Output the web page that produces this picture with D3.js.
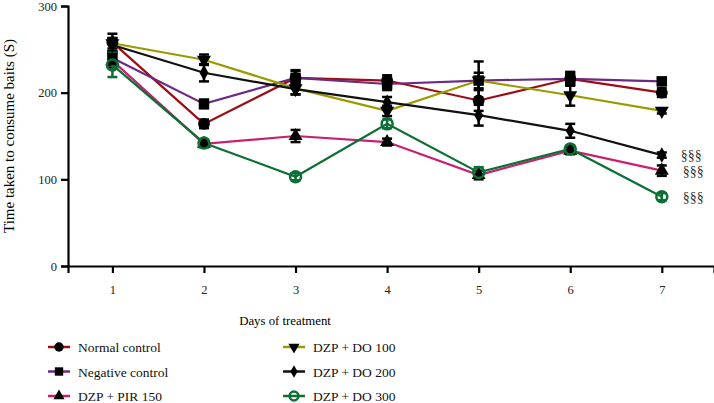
<!DOCTYPE html>
<html>
<head>
<meta charset="utf-8">
<script src="https://cdn.jsdelivr.net/npm/d3@7"></script>
<style>
  body { margin: 0; background: #fff; }
</style>
</head>
<body>
<script>
// days on the x axis
let days = [1, 2, 3, 4, 5, 6, 7];
let yTicks = [0, 100, 200, 300];

// mean time (s) per group
let normalControl   = [258, 164, 217, 214, 191, 216, 200];
let negativeControl = [240, 187, 217, 210, 214, 216, 213];
let dzpPir150       = [237, 141, 150, 143, 105, 133, 110];
let dzpDo100        = [257, 238, 205, 179, 214, 197, 179];
let dzpDo200        = [255, 223, 204, 189, 174, 156, 128];
let dzpDo300        = [232, 142, 103, 164, 108, 135, 80];

// error (SEM) per point
let normalErr   = [10, 5, 8, 6, 12, 7, 5];
let negativeErr = [8, 5, 9, 7, 9, 8, 4];
let pirErr      = [8, 4, 7, 4, 5, 4, 6];
let do100Err    = [6, 6, 7, 6, 22, 12, 3];
let do200Err    = [8, 10, 6, 6, 12, 8, 3];
let do300Err    = [14, 4, 4, 5, 6, 4, 4];

let groups = [
  {name: "Normal control",   values: normalControl,   err: normalErr,   color: "#9b0d12", shape: "circle"},
  {name: "Negative control", values: negativeControl, err: negativeErr, color: "#6b2a80", shape: "square"},
  {name: "DZP + PIR 150",    values: dzpPir150,       err: pirErr,      color: "#c8206f", shape: "triangle"},
  {name: "DZP + DO 100",     values: dzpDo100,        err: do100Err,    color: "#9a9a00", shape: "down"},
  {name: "DZP + DO 200",     values: dzpDo200,        err: do200Err,    color: "#111111", shape: "diamond"},
  {name: "DZP + DO 300",     values: dzpDo300,        err: do300Err,    color: "#0c7034", shape: "open"}
];
let sigLabels = [{group: 4, text: "§§§"}, {group: 2, text: "§§§"}, {group: 5, text: "§§§"}];

let serif = "'Liberation Serif', 'Times New Roman', Times, 'DejaVu Serif', 'Noto Serif', serif";

let margin = {top: 6, right: 0, bottom: 137, left: 68},
    width = 714 - margin.left - margin.right,
    height = 403 - margin.top - margin.bottom;

let root = d3.select("body")
    .append("svg")
        .attr("width", 714)
        .attr("height", 403)
        .style("font-family", serif);
let svg = root.append("g")
        .attr("transform", "translate(" + margin.left + "," + margin.top + ")");

let x = d3.scaleLinear().domain([0.515, 7.57]).range([0, width]);
let y = d3.scaleLinear().domain([0, 300]).range([height, 0]);

// axes
let xAxis = svg.append("g")
    .attr("transform", "translate(0," + height + ")")
    .call(d3.axisBottom(x).tickValues(days).tickFormat(d3.format("d")).tickSizeOuter(0).tickSize(7).tickPadding(12));
let yAxis = svg.append("g")
    .call(d3.axisLeft(y).tickValues(yTicks).tickSizeOuter(0).tickSize(7).tickPadding(4));
[xAxis, yAxis].forEach(function(a) {
    a.attr("font-family", serif);
    a.select(".domain").attr("stroke-width", 2.2);
    a.selectAll(".tick line").attr("stroke-width", 2.2);
    a.selectAll("text").style("font-size", "12.5px").attr("fill", "#222");
});

svg.append("text")
    .text("Days of treatment")
    .attr("x", 285 - margin.left)
    .attr("y", 325 - margin.top)
    .attr("text-anchor", "middle")
    .style("font-size", "12.8px");

svg.append("text")
    .text("Time taken to consume baits (S)")
    .attr("transform", "translate(" + (14 - margin.left) + "," + (height / 2) + ") rotate(-90)")
    .attr("text-anchor", "middle")
    .style("font-size", "15px");

function symbol(shape) {
    let t = {circle: d3.symbolCircle, square: d3.symbolSquare, triangle: d3.symbolTriangle,
             down: d3.symbolTriangle, diamond: d3.symbolDiamond, open: d3.symbolCircle}[shape];
    let size = {circle: 110, square: 110, triangle: 85, down: 85, diamond: 70, open: 95}[shape];
    return d3.symbol().type(t).size(size)();
}

function drawMarker(g, d, cx, cy, k) {
    let p = g.append("path")
        .attr("d", symbol(d.shape))
        .attr("transform", "translate(" + cx + "," + cy + ")" + (d.shape === "down" ? " rotate(180)" : "") + " scale(" + (k || 1) + ")");
    if (d.shape === "open") {
        p.attr("fill", "none").attr("stroke", d.color).attr("stroke-width", 2.5 / (k || 1));
    } else {
        p.attr("fill", "#000");
    }
}

let line = d3.line()
    .x(function(d, i) { return x(days[i]); })
    .y(function(d) { return y(d); });

// error bars
groups.forEach(function(g) {
    let eg = svg.append("g").attr("stroke", g.shape === "open" ? g.color : "#000").attr("stroke-width", 2.5);
    g.values.forEach(function(v, i) {
        let cx = x(days[i]);
        eg.append("line").attr("x1", cx).attr("x2", cx).attr("y1", y(v - g.err[i])).attr("y2", y(v + g.err[i]));
        [v - g.err[i], v + g.err[i]].forEach(function(e) {
            eg.append("line").attr("x1", cx - 5).attr("x2", cx + 5).attr("y1", y(e)).attr("y2", y(e));
        });
    });
});

// lines
groups.forEach(function(g) {
    svg.append("path")
        .datum(g.values)
        .attr("d", line)
        .attr("fill", "none")
        .attr("stroke", g.color)
        .attr("stroke-width", 2.2);
});

// markers
groups.forEach(function(g) {
    let mg = svg.append("g");
    g.values.forEach(function(v, i) { drawMarker(mg, g, x(days[i]), y(v)); });
});

// significance marks at day 7
sigLabels.forEach(function(s, k) {
    let v = groups[s.group].values[6];
    svg.append("text")
        .text(s.text)
        .attr("x", x(7) + 19 + (k > 0 ? 2 : 0))
        .attr("y", y(v) + 5)
        .style("font-size", "14px")
        .attr("fill", "#333");
});

// legend
let legend = root.append("g");
groups.forEach(function(g, i) {
    let col = i < 3 ? 0 : 1;
    let row = i % 3;
    let lx = col === 0 ? 48 : 283;
    let ly = 347 + row * 24.5;
    legend.append("line")
        .attr("x1", lx).attr("x2", lx + 22).attr("y1", ly).attr("y2", ly)
        .attr("stroke", g.color).attr("stroke-width", 2.5);
    drawMarker(legend, g, lx + 11, ly, 0.8);
    legend.append("text")
        .text(g.name)
        .attr("x", lx + 30)
        .attr("y", ly + 5)
        .style("font-size", "13.5px")
        .attr("fill", "#111");
});
</script>
</body>
</html>
